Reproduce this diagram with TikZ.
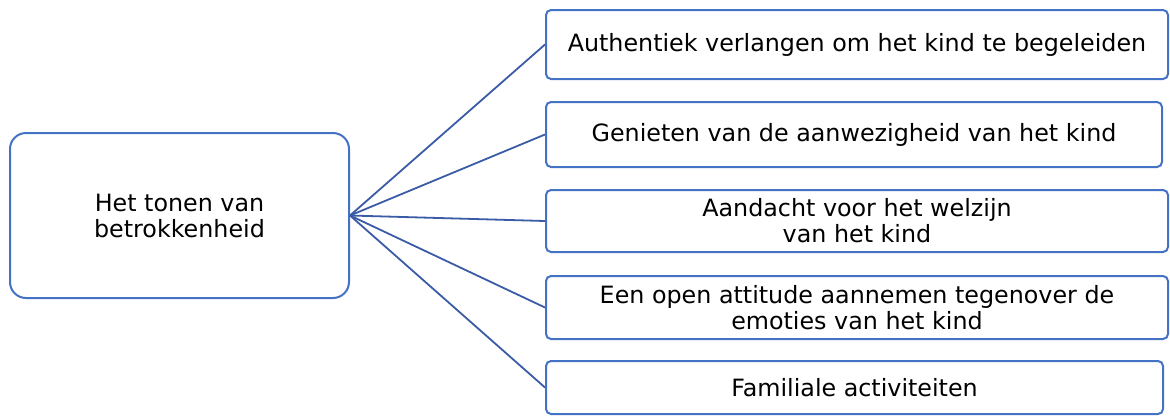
\documentclass[tikz,border=0pt]{standalone}
\usepackage{fontspec}
\setmainfont{DejaVu Sans}
\definecolor{boxblue}{HTML}{4472C4}
\definecolor{lineblue}{HTML}{3A5BA5}
\begin{document}
\begin{tikzpicture}[x=1pt,y=-1pt,
  box/.style={draw=boxblue, line width=2pt, fill=white, align=center, inner sep=0pt,
    font=\fontsize{23.8}{26}\selectfont},
  leftbox/.style={box, rounded corners=16pt},
  rightbox/.style={box, rounded corners=5pt},
  conn/.style={draw=lineblue, line width=1.8pt}]
\useasboundingbox (0,0) rectangle (1170,416);
\node[leftbox, minimum width=339pt, minimum height=165pt] (L) at (179.5,215.5) {Het tonen van\\betrokkenheid};
\node[rightbox, minimum width=622pt, minimum height=69pt] (a) at (857,44.5) {Authentiek verlangen om het kind te begeleiden};
\node[rightbox, minimum width=616pt, minimum height=65pt] (b) at (854,134.5) {Genieten van de aanwezigheid van het kind};
\node[rightbox, minimum width=622pt, minimum height=62pt] (c) at (857,221) {Aandacht voor het welzijn\\van het kind};
\node[rightbox, minimum width=622pt, minimum height=63pt] (d) at (857,307.5) {Een open attitude aannemen tegenover de\\emoties van het kind};
\node[rightbox, minimum width=617pt, minimum height=53pt] (e) at (854.5,387.5) {Familiale activiteiten};
\foreach \n in {a,b,c,d,e} \draw[conn] (L.east) -- (\n.west);
\end{tikzpicture}
\end{document}
